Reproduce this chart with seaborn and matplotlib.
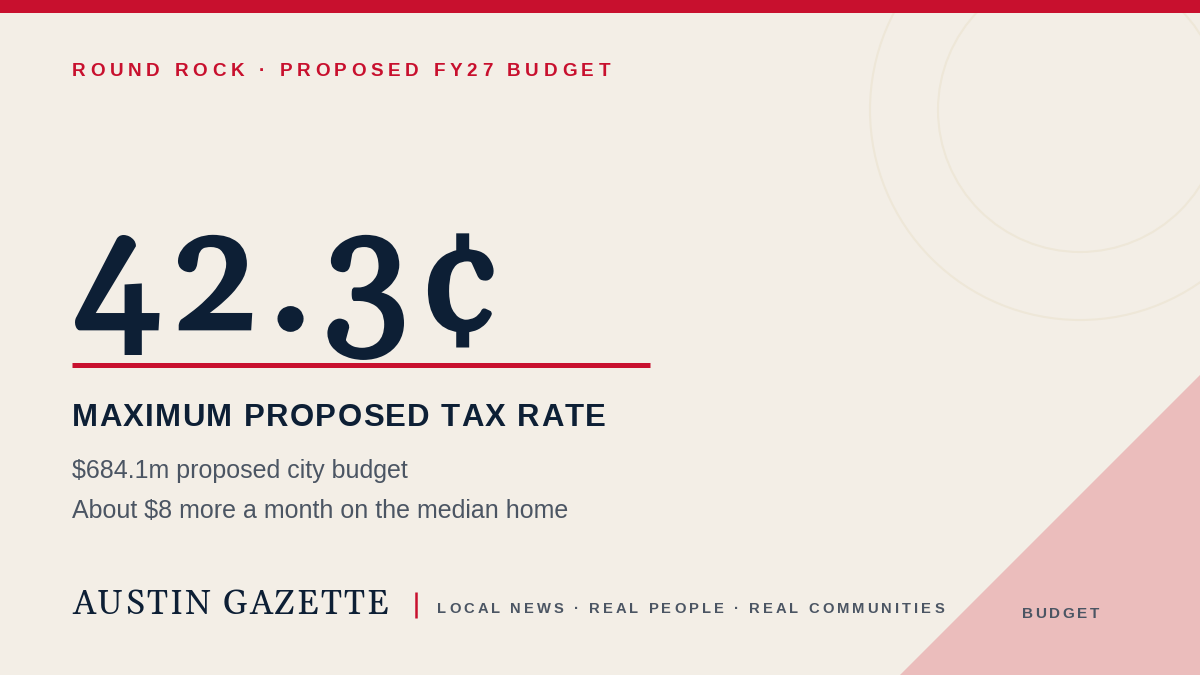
import numpy as np
import pandas as pd
import matplotlib
matplotlib.use("Agg")
import matplotlib.pyplot as plt
import seaborn as sns
from matplotlib import font_manager
from matplotlib.font_manager import FontProperties
from matplotlib.ft2font import FT2Font
from matplotlib.textpath import TextPath
from matplotlib.patches import Polygon, Circle, Rectangle
import matplotlib.patheffects as pe

# ---------------- data ----------------
kicker_parts = ["ROUND ROCK", "PROPOSED FY27 BUDGET"]
headline_value = [42.3]
headline_unit = ["¢"]
metric_label = ["MAXIMUM PROPOSED TAX RATE"]
detail_lines = ["$684.1m proposed city budget",
                "About $8 more a month on the median home"]
brand_name = ["AUSTIN GAZETTE"]
tagline_parts = ["LOCAL NEWS", "REAL PEOPLE", "REAL COMMUNITIES"]
section_tag = ["BUDGET"]

# ---------------- style ----------------
BG = "#F3EEE6"
NAVY = "#0D1F35"
RED = "#C8102E"
GRAY = "#4B5563"
PINK = "#EBBDBC"
RING = "#EEE7D8"

sns.set_theme(style="white")
plt.rcParams["font.family"] = ["Liberation Sans", "DejaVu Sans"]

DPI = 100
W, H = 1200, 675
fig = plt.figure(figsize=(W / DPI, H / DPI), dpi=DPI, facecolor=BG)
ax = fig.add_axes([0, 0, 1, 1])
ax.set_xlim(0, W)
ax.set_ylim(H, 0)
ax.axis("off")
ax.set_facecolor(BG)

try:
    from matplotlib.ft2font import LoadFlags
    NOHINT = LoadFlags.NO_HINTING
except Exception:
    from matplotlib.ft2font import LOAD_NO_HINTING as NOHINT


def _w(fe):
    w = fe.weight
    if isinstance(w, str):
        wl = w.lower()
        return 700 if "bold" in wl else (900 if "black" in wl or "heavy" in wl else 400)
    return int(w)


def find_font(name, wmin, wmax=1000, static=False):
    best = None
    for fe in font_manager.fontManager.ttflist:
        if fe.name != name or fe.style != "normal":
            continue
        if static and "[" in fe.fname:
            continue
        w = _w(fe)
        if wmin <= w <= wmax:
            if best is None or abs(w - 700) < abs(_w(best) - 700):
                best = fe
    return FontProperties(fname=best.fname) if best is not None else None


SANS_B = find_font("Liberation Sans", 700) or FontProperties(family="Liberation Sans", weight="bold")
SERIF_R = find_font("Liberation Serif", 400, 400) or FontProperties(family="Liberation Serif")
GEL = find_font("Gelasio", 400, 900)
DMS = find_font("DM Serif Display", 400, 400)
BRAND = find_font("Gelasio", 400, 400) or SERIF_R

_cache = {}


def _ft(prop):
    path = prop.get_file() or font_manager.findfont(prop)
    if path not in _cache:
        _cache[path] = FT2Font(path)
    return _cache[path]


def advances(text, prop, size):
    f = _ft(prop)
    f.set_size(size, DPI)
    return [f.load_char(ord(c), flags=NOHINT).linearHoriAdvance / 65536.0
            for c in text]


def tracked(x, y, text, size, prop, color, width=None, track=0.0, zorder=5,
            effects=None):
    adv = advances(text, prop, size)
    if width is not None and len(text) > 1:
        track = (width - sum(adv)) / (len(text) - 1)
    p = prop.copy()
    p.set_size(size)
    cx = x
    for ch, a in zip(text, adv):
        if ch != " ":
            t = ax.text(cx, y, ch, fontproperties=p, color=color, ha="left",
                        va="baseline", zorder=zorder)
            if effects:
                t.set_path_effects(effects)
        cx += a + track
    return cx


def ink(ch, prop, size):
    ext = TextPath((0, 0), ch, size=size, prop=prop).get_extents()
    k = DPI / 72.0
    return ext.height * k, ext.y0 * k, ext.x0 * k


def fit_size(ch, prop, target_px):
    h, _, _ = ink(ch, prop, 100)
    return 100 * target_px / h


def is_oldstyle(prop):
    try:
        h4, y4, _ = ink("4", prop, 100)
        return y4 < -0.12 * h4
    except Exception:
        return False


# choose headline face: Georgia-like old-style figures if available
if GEL is not None and is_oldstyle(GEL):
    BIG = GEL
    BIG_FX = [pe.withStroke(linewidth=3.6, foreground=NAVY, joinstyle="miter")]
    big_width = 432
    pad = 1.5
elif DMS is not None:
    BIG, BIG_FX, big_width, pad = DMS, None, 420, 0.0
else:
    BIG = SERIF_R
    BIG_FX = [pe.withStroke(linewidth=2.5, foreground=NAVY)]
    big_width, pad = 420, 0.0

# ---------------- decorations ----------------
for r in (142, 210):
    ax.add_patch(Circle((1080, 110), r, fill=False, ec=RING, lw=1.5, zorder=1))
ax.add_patch(Polygon([(900, 675), (1200, 375), (1200, 675)], closed=True,
                     fc=PINK, ec="none", zorder=2))
ax.add_patch(Rectangle((0, 0), W, 13, fc=RED, ec="none", zorder=3))

# ---------------- text ----------------
kicker = " · ".join(kicker_parts)
tracked(72, 76, kicker, 13.6, SANS_B, RED, width=538)

big = f"{headline_value[0]:.1f}{headline_unit[0]}"
big_size = fit_size("4", BIG, 118.0 - 2 * pad)
_, y0, x0 = ink("4", BIG, big_size)
base = 354 - pad + y0
tracked(76 + pad - x0, base, big, big_size, BIG, NAVY, width=big_width,
        effects=BIG_FX)

ax.plot([72, 650], [365, 365], color=RED, lw=3.6, solid_capstyle="butt",
        zorder=4)

tracked(72, 426, metric_label[0], 22.4, SANS_B, NAVY, width=534)

for i, line in enumerate(detail_lines):
    ax.text(72, 478 + 40 * i, line, fontsize=18, family="Liberation Sans",
            color=GRAY, ha="left", va="baseline", zorder=5)

brand_size = fit_size("E", BRAND, 23.6)
_, by0, bx0 = ink("A", BRAND, brand_size)
tracked(72 - bx0, 614, brand_name[0], brand_size, BRAND, NAVY, width=316)
ax.plot([416, 416], [592, 618], color=RED, lw=1.8, solid_capstyle="butt",
        zorder=4)

tagline = " · ".join(tagline_parts)
tracked(437, 613, tagline, 10.6, SANS_B, GRAY, width=507)

tracked(1022, 618, section_tag[0], 11.0, SANS_B, GRAY, width=77)

fig.savefig("out.png", dpi=DPI, facecolor=BG)
